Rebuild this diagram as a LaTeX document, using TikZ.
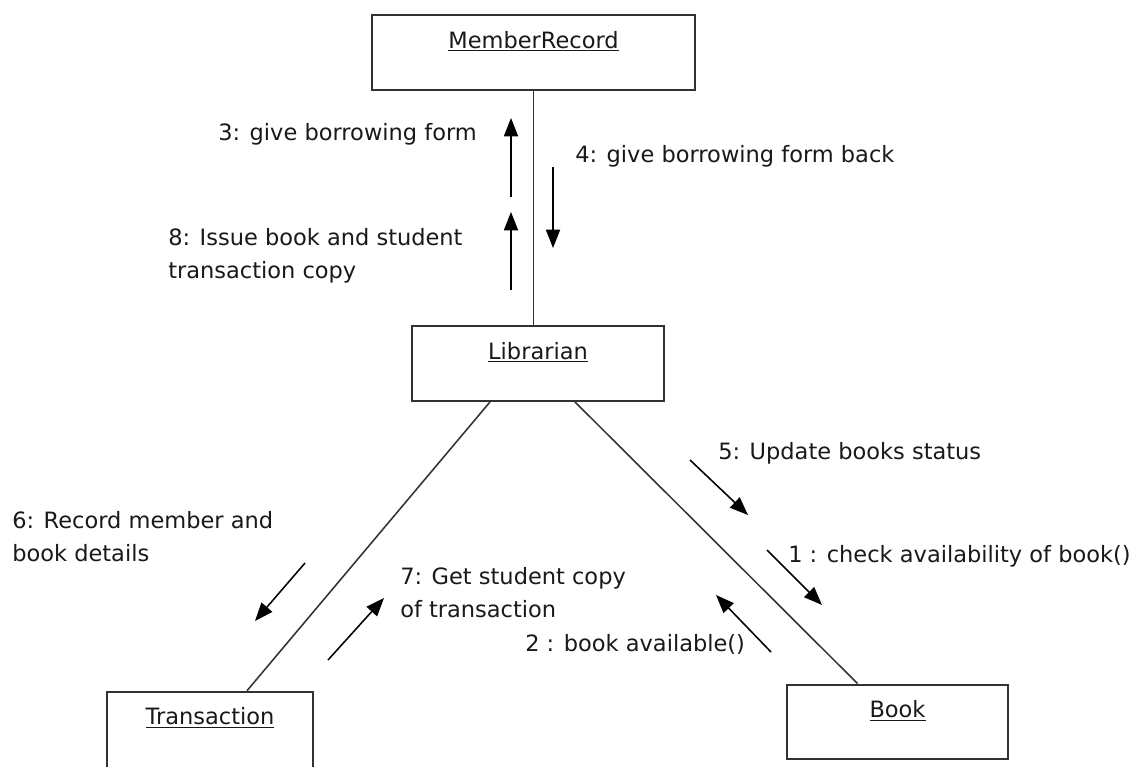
\documentclass[tikz,border=0pt]{standalone}
\usepackage{fontspec}
\setmainfont{DejaVu Sans}
\usetikzlibrary{arrows.meta, calc}
\definecolor{UMLLine}{RGB}{50,50,50}
\definecolor{UMLText}{RGB}{25,25,25}

\begin{document}
\begin{tikzpicture}[x=0.025cm, y=-0.025cm,
    obj/.style={rectangle, draw=UMLLine, line width=1.4pt, inner ysep=0pt,
                text height=23.5pt, text depth=29.8pt, align=center,
                font=\fontsize{16}{19}\selectfont, text=UMLText},
    link/.style={draw=UMLLine, line width=1.1pt},
    msg/.style={-{Triangle[length=13pt, width=10pt]}, draw=black, line width=1.1pt},
    lbl/.style={anchor=west, inner sep=0pt, align=left, text=UMLText,
                font=\fontsize{16}{23.5}\selectfont}
  ]
  \useasboundingbox (0,0) rectangle (1136,767);
  \clip (0,0) rectangle (1136,767);

  \node[obj, minimum width=8.08cm] (member)    at (533.5,52.5) {\underline{MemberRecord}};
  \node[obj, minimum width=6.3cm]  (librarian) at (538,363.5)  {\underline{Librarian}};
  \node[obj, minimum width=5.15cm, text depth=34.5pt] (trans) at (210,732.5) {\underline{Transaction}};
  \node[obj, minimum width=5.53cm] (book)      at (897.5,722)  {\underline{Book}};

  \draw[link] (member.south) -- (member.south |- librarian.north);
  \draw[link] ($(librarian.south)+(-48,0)$) -- ($(trans.north)+(37,0)$);
  \draw[link] ($(librarian.south)+(37,0)$)  -- ($(book.north)+(-40,0)$);

  % message arrows
  \foreach \xa/\ya/\xb/\yb in {511/197/511/118, 511/290/511/212, 553/167/553/248,
                               305/563/255/621, 328/660/384/598,
                               690/460/748/515, 767/550/822/605, 771/652/716/595}{
    \draw[msg] (\xa,\ya) -- (\xb,\yb);
  }

  \node[lbl] (l3) at (218,134) {3: give borrowing form};
  \node[lbl] (l4) at (575,156) {4: give borrowing form back};
  \node[lbl] (l8) at (168,256) {8: Issue book and student\\transaction copy};
  \node[lbl] (l5) at (718,453) {5: Update books status};
  \node[lbl] (l6) at (12,537)  {6: Record member and\\book details};
  \node[lbl] (l7) at (400,593) {7: Get student copy\\of transaction};
  \node[lbl] (l1) at (788,556) {1 : check availability of book()};
  \node[lbl] (l2) at (525,644) {2 : book available()};
\end{tikzpicture}
\end{document}
